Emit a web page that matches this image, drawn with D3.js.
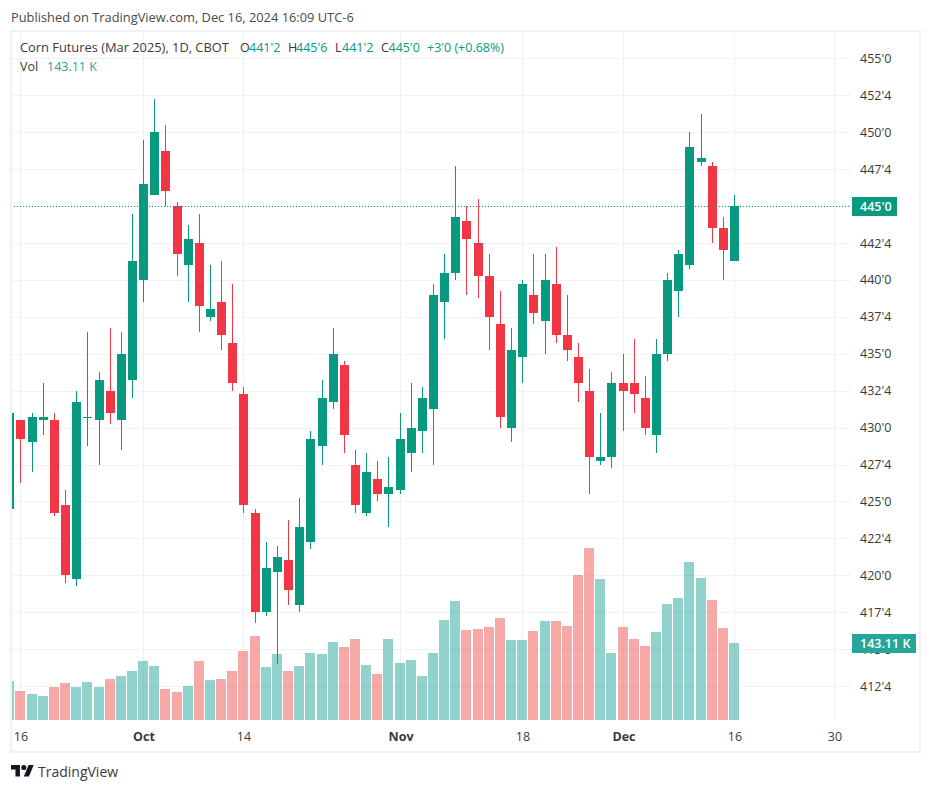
<!DOCTYPE html>
<html lang="en">
<head>
<meta charset="UTF-8">
<title>Corn Futures (Mar 2025)</title>
<script src="https://d3js.org/d3.v7.min.js"></script>
<style>
html, body { margin: 0; padding: 0; background: #fff; }
svg { display: block; }
text { font-family: "Open Sans", "Noto Sans", sans-serif; }
</style>
</head>
<body>
<div id="main"></div>
<script>
// trading sessions, last nine are the empty space on the right of the chart
var sessions = ['09-13','09-16','09-17','09-18','09-19','09-20','09-23','09-24','09-25','09-26','09-27','09-30',
  '10-01','10-02','10-03','10-04','10-07','10-08','10-09','10-10','10-11','10-14','10-15','10-16','10-17','10-18',
  '10-21','10-22','10-23','10-24','10-25','10-28','10-29','10-30','10-31','11-01','11-04','11-05','11-06','11-07','11-08',
  '11-11','11-12','11-13','11-14','11-15','11-18','11-19','11-20','11-21','11-22','11-25','11-26','11-27','11-29',
  '12-02','12-03','12-04','12-05','12-06','12-09','12-10','12-11','12-12','12-13','12-16',
  '12-17','12-18','12-19','12-20','12-23','12-24','12-26','12-27','12-30']

var opens = [424.5,430.5,429,430.5,430.5,424.75,419.75,430.75,430.5,432.5,430.5,433.25,440,445.75,448.75,445,441,442.5,437.5,438.5,435.75,432.25,
  424.25,417.5,420.25,421,418,422.25,428.75,431.75,434.25,427.5,424.25,426.5,425.5,425.75,428.25,429.75,431.25,438.5,440.5,
  444,442.5,440.25,437,430,434.75,439,437.25,439.75,436.25,434.75,432.5,427.75,428,433,433,432,429.5,435,439.25,441,448,447.75,443.5,441.25]
var highs = [431,430.5,431,433,431,425.75,432.5,436.5,433.75,436.75,436.5,444.5,449.5,452.25,450.5,445.25,443.75,444.5,441,441.25,439.75,432.75,
  424.5,422.25,422,423.75,425.25,429.75,433.25,436.75,434.5,428.5,428.25,427.75,428,431,433,432.75,439.75,441.75,447.75,
  445,445.5,441.75,439.25,436.75,440,441.75,441.75,442.25,439,435.75,434,431,433.75,435,436,433.5,436,440.5,442,450,451.25,448,444.25,445.75]
var lows = [424.5,426.25,427,429.5,424,419.5,419.25,428.75,427.5,430.25,428.5,432,438.5,445.75,445,440.25,438.5,436.5,437.25,435.25,432.5,424.25,
  416.75,417.25,414,418,417.5,421.75,427.5,431.25,428.25,424.25,424,425,423.25,425.5,427,428.25,427.5,436,440,
  439,438.75,435.25,430,429,433,437,435,435.75,434.5,431.75,425.5,427.5,427.25,429.75,431,429.5,428.25,434.5,437.5,440.75,447.75,442.5,440,441.25]
var closes = [431,429.25,430.75,430.75,424.25,420,431.75,430.75,433.25,431,435,441.25,446.5,450,446,441.75,442.75,438.25,438,436.25,433,424.75,
  417.5,420.5,421.25,419,423.25,429.25,432,435,429.5,424.75,427,425.5,426,429.25,430,432,439,440.5,444.25,
  442.75,440.25,437.5,430.75,435.25,439.75,437.75,440,436.25,435.25,433,428,428,433,432.5,432.25,430,435,440,441.75,449,448.25,443.5,442,445]
// volume in thousands
var volumes = [72.5,53.9,48.3,44.6,61.3,68.8,61.3,70.6,61.3,76.2,81.8,91.1,109.6,100.4,57.6,52,63.2,109.6,74.3,76.2,91.1,128.2,
  156.1,98.5,122.7,91.1,100.4,124.5,122.7,145,135.7,150.5,102.2,85.5,150.5,105.9,111.5,81.8,124.5,185.9,221.2,
  167.3,169.1,172.8,189.6,148.7,148.7,165.4,184,184,174.7,269.5,319.7,262,124.5,172.8,150.5,137.5,163.5,215.6,226.7,293.6,263.9,223,171,143.11]

var timeTicks = ['09-16','10-01','10-14','11-01','11-18','12-02','12-16','12-30']
var timeLabels = ['16','Oct','14','Nov','18','Dec','16','30']
var monthLabels = ['Oct','Nov','Dec']
var priceTicks = [412.5,415,417.5,420,422.5,425,427.5,430,432.5,435,437.5,440,442.5,445,447.5,450,452.5,455]

var green = '#089981', red = '#f23645'
var volGreen = '#26a69a', volRed = '#ef5350'
var width = 931, height = 791
var plot = {left: 11, right: 851, top: 31, bottom: 720}

var svg = d3.select('#main').append('svg')
  .attr('width', width).attr('height', height)
  .attr('viewBox', `0 0 ${width} ${height}`)

// x runs over session index, so the gaps in the calendar do not show
var x = d3.scaleLinear().domain([1, 65]).range([20.49, 734.09])
var y = d3.scaleLinear().domain([412.5, 450]).range([686, 132.3])
var yVol = d3.scaleLinear().domain([0, 400]).range([720, 504.8])

// 445.5 -> 445'4 (eighths of a cent)
function fmt(p) {
  var whole = Math.floor(p)
  return whole + "'" + Math.round((p - whole) * 8)
}
var candles = opens.map((o, i) => ({i: i, o: o, h: highs[i], l: lows[i], c: closes[i], v: volumes[i]}))
var px = d => Math.round(x(d))

svg.append('defs').append('clipPath').attr('id', 'plotClip').append('rect')
  .attr('x', plot.left).attr('y', plot.top)
  .attr('width', plot.right - plot.left).attr('height', plot.bottom - plot.top)

// header
svg.append('text').attr('x', 11).attr('y', 22).attr('font-size', 12.85).attr('fill', '#4a4a4a')
  .text('Published on TradingView.com, Dec 16, 2024 16:09 UTC-6')

// grid
var grid = svg.append('g').attr('clip-path', 'url(#plotClip)')
grid.selectAll('.h').data(priceTicks).join('line').attr('class', 'h')
  .attr('x1', plot.left).attr('x2', plot.right)
  .attr('y1', d => Math.round(y(d)) + 0.5).attr('y2', d => Math.round(y(d)) + 0.5)
  .attr('stroke', '#f1f2f6')
grid.selectAll('.v').data(timeTicks).join('line').attr('class', 'v')
  .attr('y1', plot.top).attr('y2', plot.bottom)
  .attr('x1', d => px(sessions.indexOf(d)) + 0.5).attr('x2', d => px(sessions.indexOf(d)) + 0.5)
  .attr('stroke', '#eeeff3')

var chart = svg.append('g').attr('clip-path', 'url(#plotClip)')

// volume sits behind the candles
chart.selectAll('.vol').data(candles).join('rect').attr('class', 'vol')
  .attr('x', d => px(d.i) - 5).attr('width', 10)
  .attr('y', d => Math.round(yVol(d.v))).attr('height', d => 720 - Math.round(yVol(d.v)))
  .attr('fill', d => d.c >= d.o ? volGreen : volRed).attr('fill-opacity', 0.5)

chart.selectAll('.wick').data(candles).join('rect').attr('class', 'wick')
  .attr('x', d => px(d.i)).attr('width', 1)
  .attr('y', d => Math.round(y(d.h))).attr('height', d => Math.max(1, Math.round(y(d.l)) - Math.round(y(d.h))))
  .attr('fill', d => d.c >= d.o ? green : red)

chart.selectAll('.body').data(candles).join('rect').attr('class', 'body')
  .attr('x', d => px(d.i) - 4).attr('width', 9)
  .attr('y', d => Math.round(y(Math.max(d.o, d.c))))
  .attr('height', d => Math.max(1, Math.round(y(Math.min(d.o, d.c))) - Math.round(y(Math.max(d.o, d.c)))))
  .attr('fill', d => d.c >= d.o ? green : red)

// last price line
var last = closes[closes.length - 1]
chart.append('line')
  .attr('x1', plot.left).attr('x2', plot.right)
  .attr('y1', Math.round(y(last)) + 0.5).attr('y2', Math.round(y(last)) + 0.5)
  .attr('stroke', green).attr('stroke-dasharray', '1 2')

// price axis
var yAxis = svg.append('g').attr('transform', `translate(${plot.right},0)`)
  .call(d3.axisRight(y).tickValues(priceTicks).tickFormat(fmt).tickSize(0).tickPadding(9))
yAxis.select('.domain').remove()
yAxis.selectAll('text').attr('font-size', 12.5).attr('fill', '#3a3a3a')
  .style('font-family', '"Open Sans", sans-serif')

// time axis
var timeScale = d3.scaleOrdinal().domain(timeTicks).range(timeTicks.map(d => px(sessions.indexOf(d)) + 0.5))
var xAxis = svg.append('g').attr('transform', `translate(0,${plot.bottom})`)
  .call(d3.axisBottom(timeScale).tickValues(timeTicks).tickFormat((d, i) => timeLabels[i]).tickSize(0).tickPadding(12))
xAxis.select('.domain').remove()
xAxis.selectAll('text').attr('font-size', 12.5).attr('fill', '#3a3a3a')
  .style('font-family', '"Open Sans", sans-serif')
  .attr('font-weight', d => monthLabels.includes(timeLabels[timeTicks.indexOf(d)]) ? 700 : 400)

// frame
svg.append('rect').attr('x', 11).attr('y', 31).attr('width', 909).attr('height', 721)
  .attr('fill', 'none').attr('stroke', '#f0f1f6').attr('stroke-width', 2)

// last value tags on the scale
var tag1 = svg.append('g')
tag1.append('rect').attr('x', 852).attr('y', 197).attr('width', 45).attr('height', 19).attr('fill', green)
tag1.append('text').attr('x', 860).attr('y', 211).attr('font-size', 12.5).attr('font-weight', 600).attr('fill', '#fff').text(fmt(last))
var tag2 = svg.append('g')
tag2.append('rect').attr('x', 852).attr('y', 634).attr('width', 64).attr('height', 19).attr('fill', volGreen)
tag2.append('text').attr('x', 860).attr('y', 648).attr('font-size', 12.5).attr('font-weight', 600).attr('fill', '#fff').text('143.11 K')

// legend, each run of text has its own x
var legend = [
  ['Corn Futures (Mar 2025), 1D, CBOT', 20, '#3a3a3a', 12.85], ['O', 240, '#3a3a3a', 12.5], ["441'2", 249, green, 12.5],
  ['H', 288, '#3a3a3a', 12.5], ["445'6", 296, green, 12.5], ['L', 335, '#3a3a3a', 12.5], ["441'2", 342, green, 12.5],
  ['C', 381, '#3a3a3a', 12.5], ["445'0", 388.5, green, 12.5], ["+3'0 (+0.68%)", 427, green, 12.5]
]
svg.selectAll('.lg').data(legend).join('text').attr('class', 'lg')
  .attr('x', d => d[1]).attr('y', 52).attr('font-size', d => d[3]).attr('fill', d => d[2]).text(d => d[0])
svg.append('text').attr('x', 20).attr('y', 71).attr('font-size', 12.5).attr('fill', '#3a3a3a').text('Vol')
svg.append('text').attr('x', 47).attr('y', 71).attr('font-size', 12.5).attr('fill', volGreen).text('143.11 K')

// logo and wordmark
var logo = svg.append('g').attr('transform', 'translate(11,762.4) scale(0.64)').attr('fill', '#131722')
logo.append('path').attr('d', 'M14 22H7V11H0V4h14v18zM28 22h-8l7.5-18h8L28 22z')
logo.append('circle').attr('cx', 20).attr('cy', 8).attr('r', 4)
svg.append('text').attr('x', 38).attr('y', 777).attr('font-size', 14).attr('fill', '#3a3a3a').text('TradingView')
</script>
</body>
</html>
